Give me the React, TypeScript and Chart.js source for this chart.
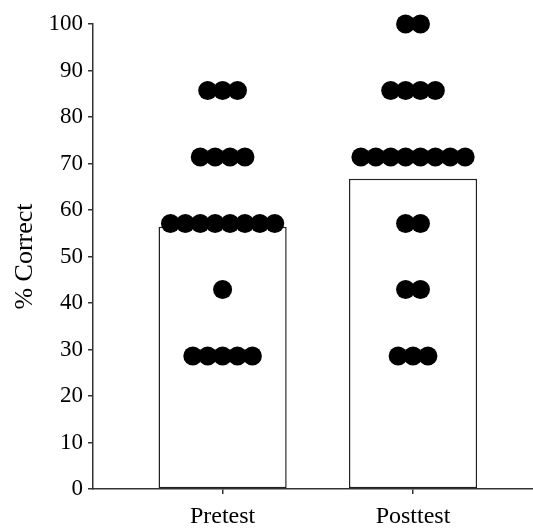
import React, { useEffect, useRef } from "react";
import { Chart, registerables } from "chart.js";

Chart.register(...registerables);

const categories = ["Pretest", "Posttest"];
const barMeans = [56.4, 66.7];
const scoreLevels = [100, 85.7, 71.4, 57.1, 42.9, 28.6];
const pretestCounts = [0, 3, 4, 8, 1, 5];
const posttestCounts = [2, 4, 8, 2, 2, 3];
const yTicks = [0, 10, 20, 30, 40, 50, 60, 70, 80, 90, 100];

const FONT = "'Liberation Serif', 'Times New Roman', serif";
const DOT_STEP = 0.0782;

function buildPoints(groupIndex: number, counts: number[]) {
  const pts: { x: number; y: number }[] = [];
  counts.forEach((n, li) => {
    for (let i = 0; i < n; i++) {
      pts.push({ x: groupIndex + 1 + (i - (n - 1) / 2) * DOT_STEP, y: scoreLevels[li] });
    }
  });
  return pts;
}

export default function App() {
  const ref = useRef<HTMLCanvasElement>(null);
  useEffect(() => {
    if (!ref.current) return;
    const dots = [...buildPoints(0, pretestCounts), ...buildPoints(1, posttestCounts)];
    const chart = new Chart(ref.current, {
      type: "bar",
      data: {
        datasets: [
          {
            type: "scatter",
            data: dots,
            backgroundColor: "#000",
            borderColor: "#000",
            pointRadius: 9.5,
            pointBorderWidth: 0,
            clip: false,
            order: 1,
          } as any,
          {
            type: "bar",
            data: barMeans.map((v, i) => ({ x: i + 1, y: v })),
            backgroundColor: "#fff",
            borderColor: "#222",
            borderWidth: 1.5,
            borderSkipped: false,
            barPercentage: 0.673,
            categoryPercentage: 1,
            order: 2,
          } as any,
        ],
      },
      options: {
        responsive: false,
        animation: false,
        layout: { autoPadding: false, padding: { top: 24, right: 0, left: 0, bottom: 0 } },
        plugins: { legend: { display: false }, tooltip: { enabled: false } },
        scales: {
          x: {
            type: "linear",
            offset: false,
            min: 0.3195,
            max: 2.63,
            afterBuildTicks: (s: any) => {
              s.ticks = categories.map((_, i) => ({ value: i + 1 }));
            },
            afterFit: (s: any) => {
              s.height = 40;
              s.paddingLeft = 0;
              s.paddingRight = 0;
            },
            ticks: {
              callback: (v: any) => categories[Math.round(Number(v)) - 1] ?? "",
              font: { family: FONT, size: 24 },
              color: "#000",
              padding: 8,
              maxRotation: 0,
            },
            grid: { offset: false, drawOnChartArea: false, drawTicks: true, tickLength: 5, color: "#333", lineWidth: 1.5 },
            border: { color: "#333", width: 1.5 },
          },
          y: {
            min: 0,
            max: 100,
            afterBuildTicks: (s: any) => {
              s.ticks = yTicks.map((v) => ({ value: v }));
            },
            afterFit: (s: any) => {
              s.width = 93;
            },
            ticks: {
              font: { family: FONT, size: 23 },
              color: "#000",
              padding: 5,
            },
            grid: { drawOnChartArea: false, drawTicks: true, tickLength: 5, color: "#333", lineWidth: 1.5 },
            border: { color: "#333", width: 1.5 },
            title: {
              display: true,
              text: "% Correct",
              font: { family: FONT, size: 26 },
              color: "#000",
              padding: { top: 10, bottom: 0 },
            },
          },
        },
      },
    });
    return () => chart.destroy();
  }, []);
  return (
    <div style={{ position: "fixed", left: 0, top: 0, width: 533, height: 529, background: "#fff" }}>
      <canvas ref={ref} width={533} height={529} style={{ display: "block" }} />
    </div>
  );
}
